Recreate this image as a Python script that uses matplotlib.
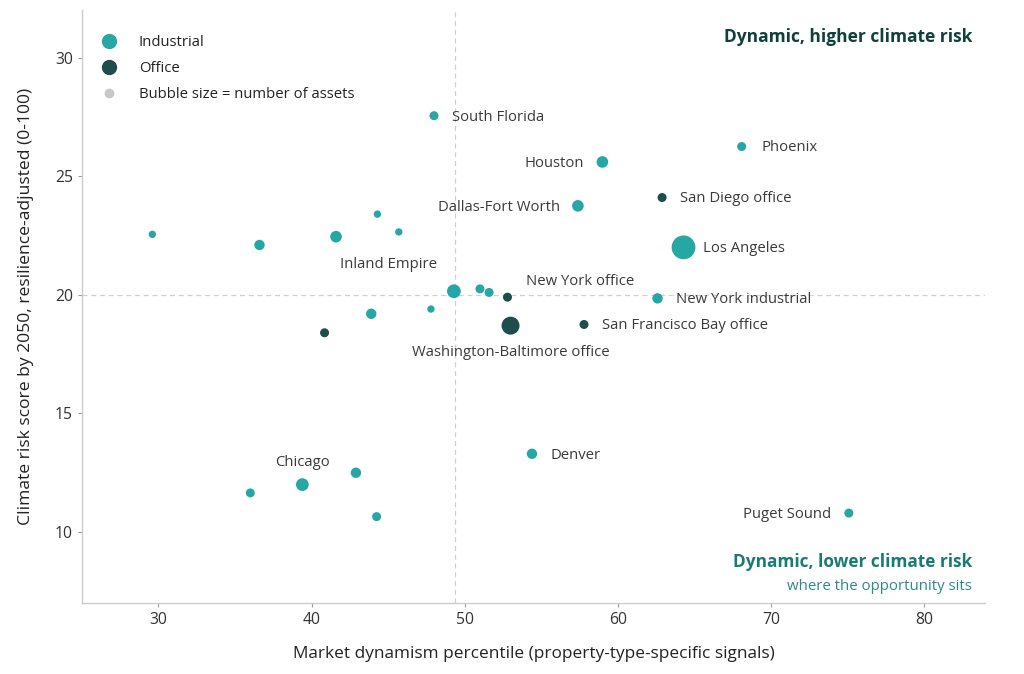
import numpy as np
import matplotlib.pyplot as plt
from matplotlib.lines import Line2D

plt.rcParams['font.family'] = ['Open Sans', 'DejaVu Sans']

# market dynamism percentile, climate risk score, asset count, type
names = ['South Florida', 'Houston', 'Phoenix', 'San Diego office', 'Dallas-Fort Worth',
         'Los Angeles', 'New York industrial', 'San Francisco Bay office', 'New York office',
         'Washington-Baltimore office', 'Inland Empire', 'Chicago', 'Denver', 'Puget Sound',
         '', '', '', '', '', '', '', '', '', '', '', '', '']
dynamism = [48.0, 59.0, 68.1, 62.9, 57.4,
            64.3, 62.6, 57.8, 52.8,
            53.0, 49.3, 39.4, 54.4, 75.1,
            29.6, 36.6, 41.6, 44.3, 45.7, 51.0, 51.6, 47.8, 43.9, 40.85, 36.0, 42.9, 44.25]
risk = [27.55, 25.6, 26.25, 24.1, 23.75,
        22.0, 19.85, 18.75, 19.9,
        18.7, 20.15, 12.0, 13.3, 10.8,
        22.55, 22.1, 22.45, 23.4, 22.65, 20.25, 20.1, 19.4, 19.2, 18.4, 11.65, 12.5, 10.65]
assets = [3, 5, 3, 3, 5,
          21, 4, 3, 3,
          12, 7, 6, 4, 3,
          2, 4, 5, 2, 2, 3, 3, 2, 4, 3, 3, 4, 3]
ptype = ['I', 'I', 'I', 'O', 'I',
         'I', 'I', 'O', 'O',
         'O', 'I', 'I', 'I', 'I',
         'I', 'I', 'I', 'I', 'I', 'I', 'I', 'I', 'I', 'O', 'I', 'I', 'I']

teal = '#27A7A3'
dark = '#1F4D4B'
txt = '#3a3a3a'

# label offsets in points and alignment
offsets = {
    'South Florida': (13, -1, 'left'),
    'Houston': (-13, -1, 'right'),
    'Phoenix': (14, -1, 'left'),
    'San Diego office': (13, -1, 'left'),
    'Dallas-Fort Worth': (-13, -1, 'right'),
    'Los Angeles': (14, -1, 'left'),
    'New York industrial': (13, -1, 'left'),
    'San Francisco Bay office': (13, -1, 'left'),
    'New York office': (13, 11, 'left'),
    'Washington-Baltimore office': (0, -19, 'center'),
    'Inland Empire': (-12, 19, 'right'),
    'Chicago': (0, 16, 'center'),
    'Denver': (13, -1, 'left'),
    'Puget Sound': (-13, -1, 'right'),
}

fig = plt.figure(figsize=(10.24, 6.74), dpi=100)
ax = fig.add_axes([0.080, 0.105, 0.882, 0.88])

x = np.array(dynamism)
y = np.array(risk)
s = np.array(assets) * 14
cols = [teal if t == 'I' else dark for t in ptype]

ax.axvline(49.4, color='#d0d0d0', lw=0.9, ls=(0, (4, 3)), zorder=1)
ax.axhline(20.0, color='#d0d0d0', lw=0.9, ls=(0, (4, 3)), zorder=1)

ax.scatter(x, y, s=s, c=cols, linewidths=0, zorder=3)

for n, xi, yi in zip(names, x, y):
    if n in offsets:
        dx, dy, ha = offsets[n]
        ax.annotate(n, (xi, yi), xytext=(dx, dy), textcoords='offset points',
                    ha=ha, va='center', fontsize=10.7, color=txt)

ax.set_xlim(25, 84)
ax.set_ylim(7, 32)
ax.set_xticks([30, 40, 50, 60, 70, 80])
ax.set_yticks([10, 15, 20, 25, 30])
ax.tick_params(colors='#333333', labelsize=11.3, length=3, width=0.8)
ax.tick_params(axis='both', color='#999999')
for sp in ['top', 'right']:
    ax.spines[sp].set_visible(False)
for sp in ['left', 'bottom']:
    ax.spines[sp].set_color('#cccccc')
    ax.spines[sp].set_linewidth(1)

ax.set_xlabel('Market dynamism percentile (property-type-specific signals)',
              fontsize=12.4, color='#222222', labelpad=13)
ax.set_ylabel('Climate risk score by 2050, resilience-adjusted (0-100)',
              fontsize=12.6, color='#222222', labelpad=15)

ax.text(0.9856, 0.954, 'Dynamic, higher climate risk', transform=ax.transAxes,
        ha='right', va='center', fontsize=12.5, fontweight='bold', color='#0F403C')
ax.text(0.9856, 0.069, 'Dynamic, lower climate risk', transform=ax.transAxes,
        ha='right', va='center', fontsize=12.4, fontweight='bold', color='#1A7A74')
ax.text(0.9856, 0.029, 'where the opportunity sits', transform=ax.transAxes,
        ha='right', va='center', fontsize=10.8, color='#2A8A84')

handles = [
    Line2D([], [], marker='o', ls='', color=teal, markersize=10),
    Line2D([], [], marker='o', ls='', color=dark, markersize=10),
    Line2D([], [], marker='o', ls='', color='#c8c8c8', markersize=6),
]
ax.legend(handles, ['Industrial', 'Office', 'Bubble size = number of assets'],
          loc='upper left', bbox_to_anchor=(0.0, 0.978), frameon=False,
          fontsize=10.75, labelspacing=0.75, handletextpad=1.0, borderpad=0.3,
          labelcolor='#222222')

fig.savefig('out.png', dpi=100)
